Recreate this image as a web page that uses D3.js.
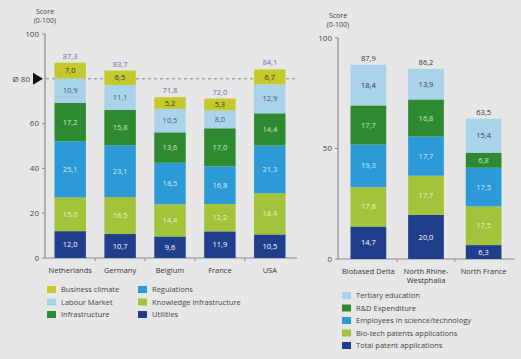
<!DOCTYPE html>
<html><head><meta charset="utf-8">
<script src="https://cdn.jsdelivr.net/npm/d3@7"></script>
<style>body{margin:0;background:#e7e7e7;}svg{display:block;font-family:"Open Sans",sans-serif;}</style>
</head><body><svg id="c" width="521" height="359"></svg>
<script>
// Left chart data
const countries = ["Netherlands","Germany","Belgium","France","USA"];
const leftSeries = ["Utilities","Knowledge infrastructure","Regulations","Infrastructure","Labour Market","Business climate"];
const utilities = [12.0,10.7,9.6,11.9,10.5];
const knowledge = [15.0,16.5,14.4,12.2,18.4];
const regulations = [25.1,23.1,18.5,16.8,21.3];
const infrastructure = [17.2,15.8,13.6,17.0,14.4];
const labour = [10.9,11.1,10.5,8.0,12.9];
const business = [7.0,6.5,5.2,5.3,6.7];
const leftTotals = ["87,3","83,7","71,8","72,0","84,1"];
const leftTicks = [0,20,40,60,100];
const average = 80;

// Right chart data
const regions = [["Biobased Delta"],["North Rhine-","Westphalia"],["North France"]];
const rightSeries = ["Total patent applications","Bio-tech patents applications","Employees in science/technology","R&D Expenditure","Tertiary education"];
const totalPatents = [14.7,20.0,6.3];
const biotechPatents = [17.8,17.7,17.5];
const employees = [19.3,17.7,17.5];
const rnd = [17.7,16.8,6.8];
const tertiary = [18.4,13.9,15.4];
const rightTotals = ["87,9","86,2","63,5"];
const rightTicks = [0,50,100];

const fmt = v => v.toFixed(1).replace(".", ",");
const colors = {
  "Utilities":"#1f3f8c","Knowledge infrastructure":"#a3c43a","Regulations":"#2b9ad6",
  "Infrastructure":"#2e8a30","Labour Market":"#a9d3ea","Business climate":"#c4c92c",
  "Total patent applications":"#1f3f8c","Bio-tech patents applications":"#a3c43a",
  "Employees in science/technology":"#2b9ad6","R&D Expenditure":"#2e8a30","Tertiary education":"#a9d3ea"
};
const textCol = {
  "Utilities":"#ffffff","Knowledge infrastructure":"#eef3c8","Regulations":"#d8ecf8",
  "Infrastructure":"#cfe6c0","Labour Market":"#4a5a6a","Business climate":"#333333",
  "Total patent applications":"#ffffff","Bio-tech patents applications":"#eef3c8",
  "Employees in science/technology":"#d8ecf8","R&D Expenditure":"#cfe6c0","Tertiary education":"#333a44"
};

const svg = d3.select("#c");
const axisCol = "#8a8a8a";

function drawChart(opt){
  const g = svg.append("g");
  const y = d3.scaleLinear().domain([0,100]).range([opt.y0, opt.y100]);
  const x = d3.scaleBand().domain(opt.cats.map((d,i)=>i)).range([opt.xStart, opt.xEnd]).paddingInner(opt.padIn).paddingOuter(opt.padOut);
  const back = g.append("g");
  // axis line
  g.append("line").attr("x1",opt.axisX).attr("x2",opt.axisX).attr("y1",y(0)).attr("y2",y(100)).attr("stroke",axisCol).attr("stroke-width",1.2);
  g.append("line").attr("x1",opt.axisX).attr("x2",opt.baseEnd).attr("y1",y(0)).attr("y2",y(0)).attr("stroke",axisCol).attr("stroke-width",1.2);
  opt.ticks.forEach(t=>{
    g.append("line").attr("x1",opt.axisX-3).attr("x2",opt.axisX).attr("y1",y(t)).attr("y2",y(t)).attr("stroke",axisCol);
    g.append("text").attr("x",opt.axisX-6).attr("y",y(t)).attr("dy","0.35em").attr("text-anchor","end")
      .attr("font-size",8).attr("fill","#444").text(t);
  });
  // between-category ticks
  for(let i=1;i<opt.cats.length;i++){
    const xx = (x(i-1)+x.bandwidth()+x(i))/2;
    g.append("line").attr("x1",xx).attr("x2",xx).attr("y1",y(0)).attr("y2",y(0)+3).attr("stroke",axisCol);
  }
  g.append("text").attr("x",opt.axisX).attr("y",opt.y100-20).attr("text-anchor","middle").attr("font-size",7).attr("fill","#444").text("Score");
  g.append("text").attr("x",opt.axisX).attr("y",opt.y100-11).attr("text-anchor","middle").attr("font-size",7).attr("fill","#444").text("(0-100)");

  const stack = d3.stack().keys(opt.series.map((s,i)=>i)).value((d,k)=>opt.values[k][d]);
  const layers = stack(opt.cats.map((c,i)=>i));
  layers.forEach((layer,k)=>{
    const name = opt.series[k];
    layer.forEach((seg,i)=>{
      g.append("rect").attr("x",x(i)).attr("width",x.bandwidth())
        .attr("y",y(seg[1])).attr("height",y(seg[0])-y(seg[1])).attr("fill",colors[name]);
      g.append("text").attr("x",x(i)+x.bandwidth()/2).attr("y",(y(seg[0])+y(seg[1]))/2).attr("dy","0.35em")
        .attr("text-anchor","middle").attr("font-size",7.5).attr("fill",textCol[name]).text(fmt(opt.values[k][i]));
    });
  });
  const top = layers[layers.length-1];
  opt.cats.forEach((c,i)=>{
    g.append("text").attr("x",x(i)+x.bandwidth()/2).attr("y",y(top[i][1])-4).attr("text-anchor","middle")
      .attr("font-size",7.5).attr("fill",opt.totalCol).text(opt.totals[i]);
    const lines = Array.isArray(c)?c:[c];
    lines.forEach((ln,j)=>{
      g.append("text").attr("x",x(i)+x.bandwidth()/2).attr("y",y(0)+15+j*9).attr("text-anchor","middle")
        .attr("font-size",7.5).attr("fill","#333").text(ln);
    });
  });
  return {g,back,x,y};
}

const L = drawChart({cats:countries, series:leftSeries, values:[utilities,knowledge,regulations,infrastructure,labour,business],
  totals:leftTotals, ticks:leftTicks, y0:258, y100:34, axisX:45, baseEnd:297, xStart:46, xEnd:294, padIn:0.37, padOut:0.17,
  totalCol:"#6a6e9e"});
// average line (behind bars)
L.back.append("line").attr("x1",46).attr("x2",298).attr("y1",L.y(average)).attr("y2",L.y(average))
  .attr("stroke","#888").attr("stroke-dasharray","3,3").attr("stroke-width",1);
L.g.append("path").attr("d",d3.line()([[33,L.y(average)-6],[43,L.y(average)],[33,L.y(average)+6]])+"Z").attr("fill","#111");
L.g.append("text").attr("x",30).attr("y",L.y(average)).attr("dy","0.35em").attr("text-anchor","end").attr("font-size",8).attr("fill","#444").text("Ø " + average);

const R = drawChart({cats:regions, series:rightSeries, values:[totalPatents,biotechPatents,employees,rnd,tertiary],
  totals:rightTotals, ticks:rightTicks, y0:259, y100:38, axisX:338, baseEnd:515, xStart:339, xEnd:513, padIn:0.38, padOut:0.2,
  totalCol:"#333"});

// legends
function legend(items, x0, y0, dy){
  items.forEach((name,i)=>{
    svg.append("rect").attr("x",x0).attr("y",y0+i*dy-4).attr("width",9).attr("height",7).attr("fill",colors[name]);
    svg.append("text").attr("x",x0+14).attr("y",y0+i*dy).attr("dy","0.3em").attr("font-size",7.5).attr("fill","#444").text(name);
  });
}
legend(["Business climate","Labour Market","Infrastructure"],47,290,12.5);
legend(["Regulations","Knowledge infrastructure","Utilities"],138,290,12.5);
legend(["Tertiary education","R&D Expenditure","Employees in science/technology","Bio-tech patents applications","Total patent applications"],342,296,12.5);
</script></body></html>
